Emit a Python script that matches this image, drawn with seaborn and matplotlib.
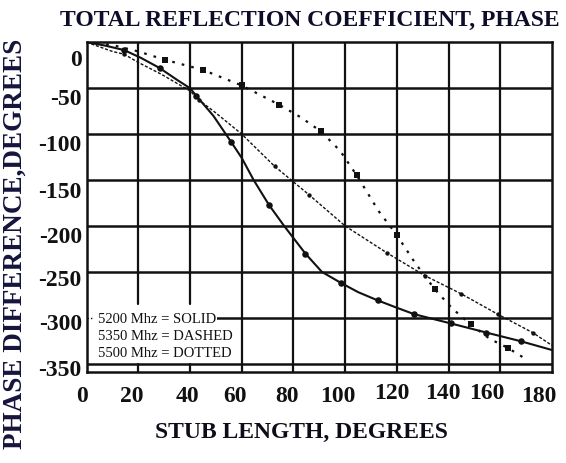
import matplotlib
matplotlib.use("Agg")
import matplotlib.pyplot as plt
from matplotlib.transforms import ScaledTranslation
import seaborn as sns
import pandas as pd

# Stub length (degrees) vs. phase difference (degrees) for three frequencies
solid_x = [0, 7, 14.5, 21, 28.2, 35, 40, 42.3, 49, 56, 60, 64.6, 70.5, 76.4, 84.6,
           91, 98.4, 105, 112.6, 120, 126.7, 133, 140.8, 154.6, 168, 180]
solid_y = [0, -3.5, -8.5, -17, -28, -41, -50, -58, -80, -109, -126, -150, -177, -200, -230,
           -250, -262, -272, -281, -289, -296, -300.5, -306, -316, -325.5, -335]
solid_mx = [14.5, 28.2, 42.3, 56, 70.5, 84.6, 98.4, 112.6, 126.7, 140.8, 154.6, 168]
solid_my = [-8.5, -28, -58, -109, -177, -230, -262, -281, -296, -306, -316, -325.5]

dashed_x = [0, 10, 14.5, 20, 29, 40, 43.5, 50, 60, 72.7, 80, 86, 100, 116, 130.8,
            145, 159, 172.5, 180]
dashed_y = [0, -10, -13, -22, -35, -53, -63, -77, -100, -135, -152, -166, -200, -229, -254,
            -274, -296, -316, -330]
dashed_mx = [14.5, 43.5, 72.7, 86, 116, 130.8, 145, 159, 172.5]
dashed_my = [-13, -63, -135, -166, -229, -254, -274, -296, -316]

dotted_x = [0, 10, 20, 30.2, 44.9, 60, 74.5, 83, 90.6, 98, 104.5, 108, 113, 120, 127,
            134.7, 141.5, 148.5, 156, 162.8, 170]
dotted_y = [0, -3, -10, -19, -30, -47, -68, -82, -97, -118, -145, -161, -184, -210, -240,
            -269, -290, -307, -323, -332.5, -345]
dotted_mx = [30.2, 44.9, 60, 74.5, 90.6, 104.5, 120, 134.7, 148.5, 162.8]
dotted_my = [-19, -30, -47, -68, -97, -145, -210, -269, -307, -332.5]

x_ticks = [0, 20, 40, 60, 80, 100, 120, 140, 160, 180]
y_ticks = [0, -50, -100, -150, -200, -250, -300, -350]
legend_lines = ["5200 Mhz = SOLID", "5350 Mhz = DASHED", "5500 Mhz = DOTTED"]

# hand-lettered tick labels sit a little off their grid lines (pixels)
x_label_dx = [-5, -7, -3, -7, -6, -7, -5, -6, -13, -13]
x_label_dy = [0, 0, 0, 0, 0, 0, 3, 3, 3, 0]
y_label_dy = [-15, -8, -8, -9, -8, -5, -3, -3]

sns.set_theme(style="white")
plt.rcParams["font.family"] = ["Liberation Serif", "DejaVu Serif"]

fig = plt.figure(figsize=(5.66, 4.64), dpi=100)
ax = fig.add_axes([0.1532, 0.196, 0.822, 0.7107])
ax.set_xlim(0, 180)
ax.set_ylim(-359, 0)

ink = "#111111"

# grid: vertical lines (x=20, 40 stop above the legend block)
for xv in x_ticks[1:-1]:
    if xv in (20, 40):
        ax.plot([xv, xv], [0, -285], color=ink, lw=1.6, zorder=1)
        ax.plot([xv, xv], [-350, -359], color=ink, lw=1.6, zorder=1)
    else:
        ax.axvline(xv, color=ink, lw=1.6, zorder=1)
for yv in y_ticks[1:]:
    if yv == -300:
        ax.plot([0, 2], [yv, yv], color=ink, lw=1.0, ls=(0, (1, 1.5)), zorder=1)
        ax.plot([48, 180], [yv, yv], color=ink, lw=1.8, zorder=1)
    else:
        ax.axhline(yv, color=ink, lw=1.8, zorder=1)

def draw(xs, ys, mx, my, ls, lw, marker, ms):
    df = pd.DataFrame({"x": xs, "y": ys})
    sns.lineplot(data=df, x="x", y="y", sort=False, ax=ax, color=ink,
                 lw=lw, linestyle=ls, zorder=3)
    mf = pd.DataFrame({"x": mx, "y": my})
    sns.scatterplot(data=mf, x="x", y="y", ax=ax, color=ink, marker=marker,
                    s=ms, linewidth=0, zorder=4)

draw(solid_x, solid_y, solid_mx, solid_my, "-", 1.5, "o", 22)
draw(dashed_x, dashed_y, dashed_mx, dashed_my, (0, (2.2, 1.3)), 1.0, "o", 10)
draw(dotted_x, dotted_y, dotted_mx, dotted_my, (0, (1.2, 3.2)), 1.6, "s", 18)

# legend text block
for i, txt in enumerate(legend_lines):
    ax.text(4.4, -301 - i * 18.5, txt, fontsize=10.5, color=ink, va="center",
            ha="left", zorder=5,
            bbox=dict(facecolor="white", edgecolor="none", pad=0.3))

for s in ax.spines.values():
    s.set_visible(True)
    s.set_color(ink)
    s.set_linewidth(1.8)

ax.set_xticks(x_ticks)
ax.set_yticks(y_ticks)
ax.set_xticklabels([str(v) for v in x_ticks])
ax.set_yticklabels([str(v) for v in y_ticks])
ax.tick_params(axis="both", length=0, labelsize=17, colors=ink)
ax.tick_params(axis="x", pad=9)
ax.tick_params(axis="y", pad=3.5)
ax.set_xlabel("")
ax.set_ylabel("")

for lab, dx, dy in zip(ax.get_xticklabels(), x_label_dx, x_label_dy):
    lab.set_fontweight("bold")
    lab.set_transform(lab.get_transform()
                      + ScaledTranslation(dx / 100, dy / 100, fig.dpi_scale_trans))
for lab, dy in zip(ax.get_yticklabels(), y_label_dy):
    lab.set_fontweight("bold")
    lab.set_transform(lab.get_transform()
                      + ScaledTranslation(0, dy / 100, fig.dpi_scale_trans))

fig.text(0.548, 0.955, "TOTAL REFLECTION COEFFICIENT, PHASE", ha="center",
         va="center", fontsize=17, fontweight="bold", color="#0d0d2a")
fig.text(0.533, 0.069, "STUB LENGTH, DEGREES", ha="center", va="center",
         fontsize=17, fontweight="bold", color="#0d0d1a")
fig.text(0.026, 0.475, "PHASE DIFFERENCE,DEGREES", ha="center", va="center",
         rotation=90, fontsize=19.5, fontweight="bold", color="#14143c")

fig.savefig("out.png", dpi=100, facecolor="white")
